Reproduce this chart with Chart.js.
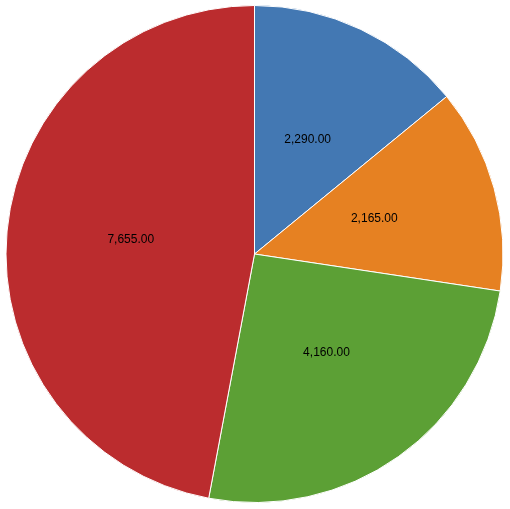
<!DOCTYPE html>
<html>
<head>
<meta charset="utf-8">
<script src="https://cdn.jsdelivr.net/npm/chart.js@4"></script>
<style>
  html, body { margin: 0; padding: 0; background: #fff; }
  #wrap { width: 510px; height: 509px; }
</style>
</head>
<body>
<div id="wrap"><canvas id="pie-chart"></canvas></div>
<script>
const categories = ["A", "B", "C", "D"];
const values = [2290, 2165, 4160, 7655];
const sliceColors = ["#4378b3", "#e68122", "#5ca035", "#bb2c2e"];

// Escreve o valor no meio de cada fatia
const sliceLabels = {
    id: "sliceLabels",
    afterDatasetsDraw(chart) {
        const ctx = chart.ctx;
        const meta = chart.getDatasetMeta(0);
        ctx.save();
        ctx.font = "12px 'Liberation Sans', Arial, sans-serif";
        ctx.fillStyle = "#000";
        ctx.textAlign = "center";
        ctx.textBaseline = "middle";
        meta.data.forEach((arc, i) => {
            const mid = (arc.startAngle + arc.endAngle) / 2;
            const r = arc.outerRadius * 0.5;
            const x = arc.x + Math.cos(mid) * r;
            const y = arc.y + Math.sin(mid) * r - 2.5;
            const text = values[i].toLocaleString("en-US", { minimumFractionDigits: 2, maximumFractionDigits: 2 });
            ctx.fillText(text, x, y);
        });
        ctx.restore();
    }
};

new Chart(document.getElementById("pie-chart"), {
    type: "pie",
    data: {
        labels: categories,
        datasets: [{
            data: values,
            backgroundColor: sliceColors,
            borderColor: "#ffffff",
            borderWidth: 1
        }]
    },
    options: {
        responsive: true,
        maintainAspectRatio: false,
        animation: false,
        layout: { padding: { left: 5, right: 6, top: 5, bottom: 6 } },
        plugins: {
            legend: { display: false },
            tooltip: { enabled: false }
        }
    },
    plugins: [sliceLabels]
});
</script>
</body>
</html>
